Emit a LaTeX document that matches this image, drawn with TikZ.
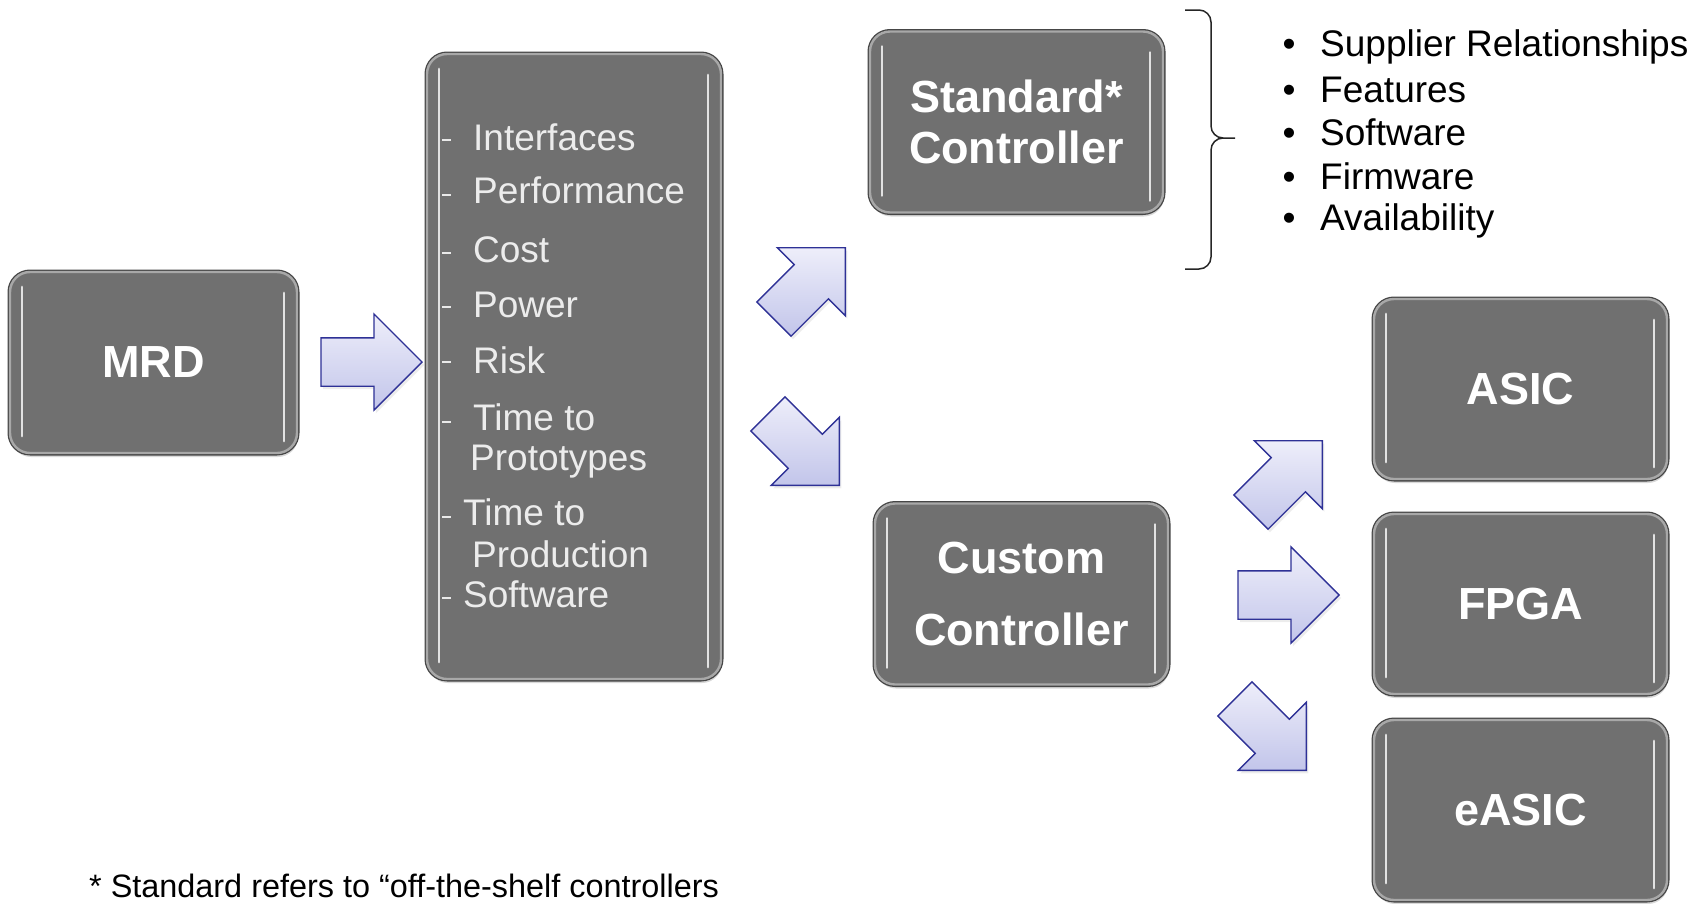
\documentclass[tikz,border=0pt]{standalone}
\usepackage{fontspec}
\setmainfont{Liberation Sans}
\usetikzlibrary{positioning}
\usetikzlibrary{calc}
\usetikzlibrary{shapes.arrows}
\usetikzlibrary{shadows}

\definecolor{boxfill}{RGB}{112,112,112}
\definecolor{boxedge}{RGB}{70,70,70}
\definecolor{boxrim}{RGB}{168,168,168}
\definecolor{arrowlight}{RGB}{238,238,250}
\definecolor{arrowdark}{RGB}{194,197,234}
\definecolor{arrowedge}{RGB}{46,49,150}
\definecolor{itemtext}{RGB}{236,236,236}

\begin{document}
\begin{tikzpicture}[x=1pt, y=-1pt,
  block/.style={drop shadow={opacity=0.3, shadow xshift=1pt, shadow yshift=-4pt},
    preaction={draw=boxedge, line width=5pt},
    fill=boxfill, draw=boxrim, line width=2.4pt, rounded corners=20pt,
    minimum width=293pt, minimum height=181pt, inner sep=0pt,
    text=white, align=center, font=\fontsize{45}{51}\selectfont\bfseries},
  bigarrow/.style={single arrow, single arrow head extend=24pt, single arrow tip angle=90,
    minimum height=101pt, minimum width=95pt, inner xsep=0pt, inner ysep=23.5pt, anchor=tip,
    drop shadow={opacity=0.15, shadow xshift=2pt, shadow yshift=-3pt},
    draw=arrowedge, line width=1.3pt, top color=arrowlight, bottom color=arrowdark},
  gloss/.style={white, line width=2.2pt, opacity=0.8, line cap=round},
  listitem/.style={anchor=base west, inner sep=0pt, text=itemtext, font=\fontsize{37}{44}\selectfont},
  feat/.style={anchor=base west, inner sep=0pt, font=\fontsize{37}{44}\selectfont},
  bul/.style={anchor=base, inner sep=0pt, font=\fontsize{37}{44}\selectfont}]
    \useasboundingbox (0,0) rectangle (1703,903);

    % boxes
    \node[block, minimum width=287pt] (mrd) at (153.5,362.5) {MRD};
    \node[block, minimum width=294pt, minimum height=625pt] (reqs) at (574,366.5) {};
    \node[block] (std) at (1016.5,122) {Standard*\\Controller};
    \node[block] (cust) at (1021.5,594) {Custom\\[21pt]Controller};
    \node[block, minimum height=180pt] (asic) at (1520.5,389) {ASIC};
    \node[block, minimum height=180pt] (fpga) at (1520.5,604) {FPGA};
    \node[block, minimum height=180pt] (easic) at (1520.5,810) {eASIC};

    \foreach \n in {mrd,reqs,std,cust,asic,fpga,easic}{
        \draw[gloss] ([xshift=13pt,yshift=-16pt]\n.north west) -- ([xshift=13pt,yshift=18pt]\n.south west);
        \draw[gloss] ([xshift=-14pt,yshift=-22pt]\n.north east) -- ([xshift=-14pt,yshift=13pt]\n.south east);
    }

    % arrows (placed by their tips)
    \node[bigarrow] (toreqs) at (423,362) {};
    \node[bigarrow, rotate=45] (tostd) at (846,247) {};
    \node[bigarrow, rotate=-45] (tocust) at (840,486) {};
    \node[bigarrow, rotate=45] (toasic) at (1323,440) {};
    \node[bigarrow] (tofpga) at (1340,595) {};
    \node[bigarrow, rotate=-45] (toeasic) at (1307,771) {};

    % requirements
    \foreach \yy/\xx/\txt [count=\i] in {150/473/Interfaces, 203/473/Performance, 262/473/Cost,
        317/473/Power, 373/473/Risk, 430/473/Time to, 470/470/Prototypes, 525/463/Time to,
        567/472/Production, 607/463/Software}
        \node[listitem] (item\i) at (\xx,\yy) {\txt};
    \foreach \yy in {140,195,253,307,362,422,517,598}
        \draw[white, line width=2pt, opacity=0.85] (442,\yy) -- (451,\yy);

    % brace and features
    \draw[line width=1.5pt, black!85, rounded corners=12pt]
        (1185,10) -- (1211,10) -- (1211,138) -- (1235,138)
        (1235,138) -- (1211,138) -- (1211,269) -- (1185,269);
    \foreach \yy/\txt [count=\i] in {56/Supplier Relationships, 102/Features, 145/Software,
        189/Firmware, 230/Availability}{
        \node[bul] (dot\i) at (1289,\yy) {\textbullet};
        \node[feat] (feat\i) at (1320,\yy) {\txt};
    }

    \node[anchor=base west, inner sep=0pt, font=\fontsize{32.4}{38}\selectfont] (note) at (89,897)
        {* Standard refers to “off-the-shelf controllers};
\end{tikzpicture}
\end{document}
